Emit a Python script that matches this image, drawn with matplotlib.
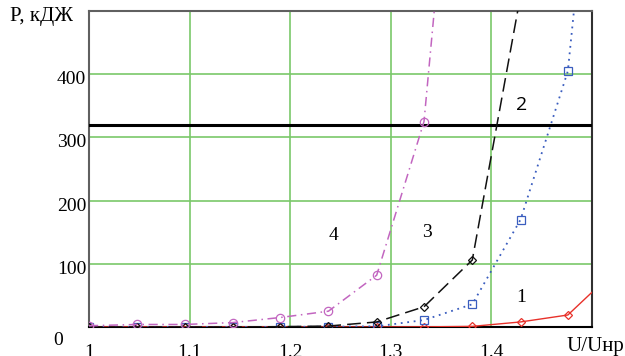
import numpy as np
import matplotlib

matplotlib.use("Agg")
import matplotlib.pyplot as plt
from matplotlib.transforms import offset_copy

plt.rcParams["font.family"] = ["Liberation Serif", "DejaVu Serif"]

# U/Uнр grid, step 1/21
U = [1.0, 1.048, 1.095, 1.143, 1.190, 1.238, 1.286, 1.333, 1.381, 1.429, 1.476, 1.524]

P1 = [0.0, 0.0, 0.0, 0.0, 0.0, 0.0, 0.0, 0.2, 1.0, 8.0, 19.0, 91.0]
P2 = [0.0, 0.0, 0.0, 0.0, 0.2, 0.5, 1.0, 11.0, 36.0, 170.0, 405.0, 1160.0]
P3 = [0.0, 0.0, 0.0, 0.0, 0.5, 1.5, 8.0, 32.0, 106.0, 525.0, 1500.0, 3000.0]
P4 = [2.0, 4.0, 4.0, 7.0, 15.0, 25.0, 82.0, 325.0, 1150.0, 3000.0, 6000.0, 9000.0]

P_LIMIT = 320.0

YTICKS = [0, 100, 200, 300, 400]
XTICKS = [1.0, 1.1, 1.2, 1.3, 1.4]
XTICK_LABELS = ["1", "1.1", "1.2", "1.3", "1.4"]

GRID = "#7ac86a"

fig = plt.figure(figsize=(6.25, 3.56), dpi=100)
ax = fig.add_axes([89 / 625, 29 / 356, 503 / 625, 316 / 356])
ax.set_xlim(1.0, 1.5)
ax.set_ylim(0, 500)

ax.set_xticks(XTICKS)
ax.set_yticks(YTICKS)
ax.tick_params(length=0, labelleft=False, labelbottom=False)
ax.grid(True, color=GRID, lw=1.2)
ax.set_axisbelow(True)

ax.axhline(P_LIMIT, color="black", lw=2.2, zorder=3)

ax.plot(U, P1, color="#e8312a", lw=1.0, marker="D", ms=4.5, mfc="none", mew=0.9,
        zorder=4)
ax.plot(U, P2, color="#3a5dbf", lw=1.3, ls=(0, (1, 2.6)), marker="s", ms=5.5,
        mfc="none", mew=0.9, zorder=4)
ax.plot(U, P3, color="#111111", lw=1.1, ls=(0, (9, 4)), marker="D", ms=4.5,
        mfc="none", mew=0.9, zorder=4)
ax.plot(U, P4, color="#c266c0", lw=1.1, ls=(0, (6, 3, 1, 3)), marker="o", ms=6,
        mfc="none", mew=0.9, zorder=4)

for side in ("left", "top"):
    ax.spines[side].set_color("#606060")
    ax.spines[side].set_linewidth(1.5)
ax.spines["right"].set_color("#303030")
ax.spines["right"].set_linewidth(1.5)
ax.spines["bottom"].set_color("black")
ax.spines["bottom"].set_linewidth(1.5)

# tick labels sit a little below their grid lines
ylab_tr = offset_copy(ax.get_yaxis_transform(), fig=fig, x=-2, y=-4, units="points")
for v in YTICKS:
    if v == 0:
        tr = offset_copy(ylab_tr, fig=fig, x=-17, y=-6, units="points")
    else:
        tr = ylab_tr
    ax.text(0, v, f"{v}", transform=tr, ha="right", va="center", fontsize=14)

xlab_tr = offset_copy(ax.get_xaxis_transform(), fig=fig, x=0, y=-12, units="points")
for v, lab in zip(XTICKS, XTICK_LABELS):
    ax.text(v, 0, lab, transform=xlab_tr, ha="center", va="top", fontsize=14)

fig.text(10 / 625, 1 - 16 / 356, "P, кДЖ", ha="left", va="center", fontsize=15)
fig.text(1 - 1 / 625, 1 - 346 / 356, "U/Uнр", ha="right", va="center", fontsize=15)

ax.text(1.43, 351, "2", ha="center", va="center", fontsize=14, family="Open Sans")
ax.text(1.336, 150, "3", ha="center", va="center", fontsize=14)
ax.text(1.243, 144, "4", ha="center", va="center", fontsize=14)
ax.text(1.43, 46, "1", ha="center", va="center", fontsize=14)

fig.savefig("out.png", dpi=100)
